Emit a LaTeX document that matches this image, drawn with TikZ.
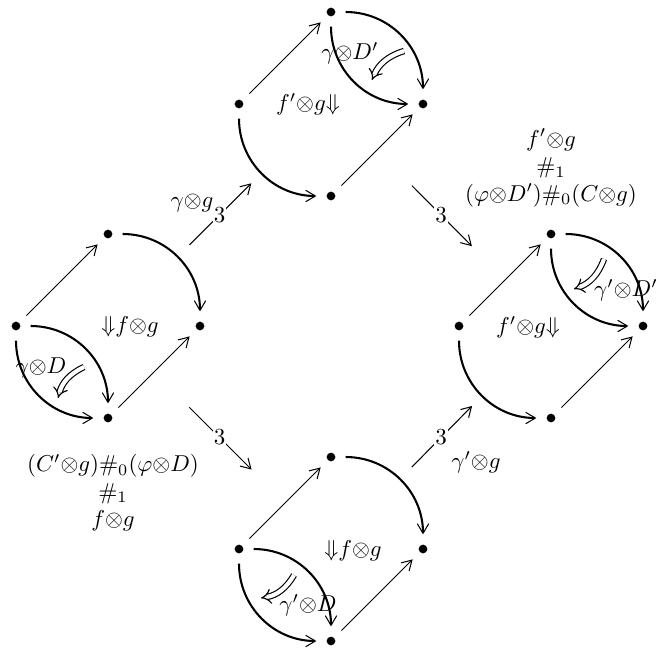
\documentclass[tikz,border=0pt]{standalone}
\usepackage{amsmath,amssymb}
\usetikzlibrary{arrows.meta}
\newcommand{\tns}{\mathord{\otimes}}
\newcommand{\dnn}{\mathord{\Downarrow}}

\begin{document}
\begin{tikzpicture}[x=0.01531cm, y=0.01531cm,
  dot/.style={circle, fill, inner sep=0pt, minimum size=3.8pt, outer sep=4.5pt},
  onecell/.style={-{Straight Barb[length=4.2pt,width=5pt,line width=0.45pt]}, line width=0.45pt},
  curved/.style={-{Straight Barb[length=4.2pt,width=5pt,line width=0.45pt]}, line width=0.9pt},
  twocell/.style={-{Implies}, double, double distance=1.8pt, line width=0.5pt},
  mid/.style={fill=white, inner sep=0.5pt},
  bigstep/.style={onecell, shorten <=1.76cm, shorten >=1.72cm}]
\useasboundingbox (0,0) rectangle (656,652);

% Four squares: dots and straight sides
\foreach \n/\x/\y in {l/108/326, t/331/548, r/551/326, b/331/103} {
    \coordinate (c\n) at (\x,\y);
    \node[dot] (w\n) at (\x-92,\y) {};
    \node[dot] (n\n) at (\x,\y+92) {};
    \node[dot] (e\n) at (\x+92,\y) {};
    \node[dot] (s\n) at (\x,\y-92) {};
    \draw[onecell] (w\n) -- (n\n);
    \draw[onecell] (s\n) -- (e\n);
}

% Left square
\draw[curved] (nl) to[bend left=45] (el);
\draw[curved] (wl) to[bend right=45] (sl);
\draw[curved] (wl) to[bend left=45] (sl);
\draw[twocell] (84,285) to[bend right=25] (58,254);
\node (gdl) at (41,284) {$\gamma\tns D$};
\node (fgl) at (130,325) {$\dnn f\tns g$};

% Top square
\draw[curved] (wt) to[bend right=45] (st);
\draw[curved] (nt) to[bend left=45] (et);
\draw[curved] (nt) to[bend right=45] (et);
\draw[twocell] (404,601) to[bend right=25] (372,572);
\node (gdt) at (350,599) {$\gamma\tns D'$};
\node (fgt) at (308,548) {$f'\tns g\dnn$};

% Right square
\draw[curved] (wr) to[bend right=45] (sr);
\draw[curved] (nr) to[bend left=45] (er);
\draw[curved] (nr) to[bend right=45] (er);
\draw[twocell] (604,393) to[bend left=25] (574,363);
\node (gdr) at (626,362) {$\gamma'\tns D'$};
\node (fgr) at (528,325) {$f'\tns g\dnn$};

% Bottom square
\draw[curved] (nb) to[bend left=45] (eb);
\draw[curved] (wb) to[bend right=45] (sb);
\draw[curved] (wb) to[bend left=45] (sb);
\draw[twocell] (294,77) to[bend left=25] (261,54);
\node (gdb) at (308,47) {$\gamma'\tns D$};
\node (fgb) at (353,101) {$\dnn f\tns g$};

% Arrows between the squares
\draw[bigstep] (cl) -- node[mid] (m1) {3} (ct);
\draw[bigstep] (ct) -- node[mid] (m2) {3} (cr);
\draw[bigstep] (cl) -- node[mid] (m3) {3} (cb);
\draw[bigstep] (cb) -- node[mid] (m4) {3} (cr);
\node (ggt) at (192,449) {$\gamma\tns g$};
\node (ggb) at (476,190) {$\gamma'\tns g$};

% Composites
\node[align=center] (compl) at (113,159)
    {$(C'\tns g)\#_0(\varphi\tns D)$\\ $\#_1$\\ $f\tns g$};
\node[align=center] (compr) at (551,484)
    {$f'\tns g$\\ $\#_1$\\ $(\varphi\tns D')\#_0(C\tns g)$};

\end{tikzpicture}
\end{document}
